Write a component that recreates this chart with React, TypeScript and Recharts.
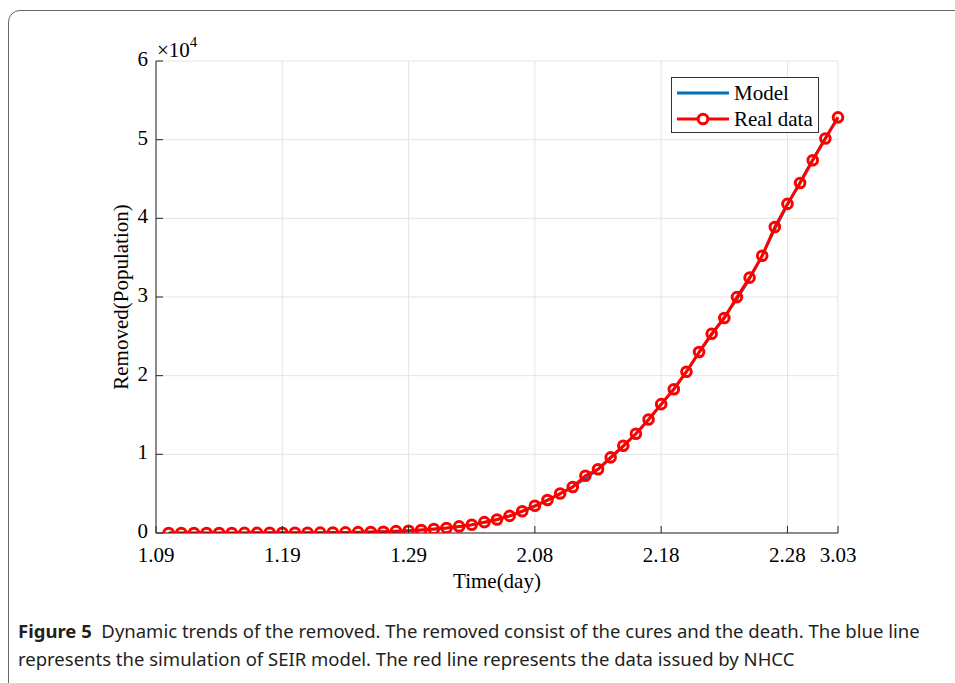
import React from 'react';
import { LineChart, Line, XAxis, YAxis, CartesianGrid } from 'recharts';

// days counted from 1.09; one point per day from 1.10 to 3.03
const dates = [
  '1.10', '1.11', '1.12', '1.13', '1.14', '1.15', '1.16', '1.17', '1.18', '1.19',
  '1.20', '1.21', '1.22', '1.23', '1.24', '1.25', '1.26', '1.27', '1.28', '1.29',
  '1.30', '1.31', '2.01', '2.02', '2.03', '2.04', '2.05', '2.06', '2.07', '2.08',
  '2.09', '2.10', '2.11', '2.12', '2.13', '2.14', '2.15', '2.16', '2.17', '2.18',
  '2.19', '2.20', '2.21', '2.22', '2.23', '2.24', '2.25', '2.26', '2.27', '2.28',
  '2.29', '3.01', '3.02', '3.03',
];

const realData = [
  2, 3, 7, 7, 7, 7, 14, 21, 27, 28,
  31, 37, 45, 59, 79, 105, 131, 166, 235, 294,
  384, 502, 632, 836, 1057, 1382, 1716, 2176, 2772, 3460,
  4189, 5012, 5853, 7278, 8103, 9619, 11084, 12614, 14420, 16380,
  18273, 20500, 23004, 25330, 27326, 29986, 32460, 35239, 38905, 41837,
  44495, 47374, 50147, 52837,
];

const modelData = [
  0, 0, 1, 3, 5, 8, 12, 17, 22, 26,
  30, 36, 45, 58, 78, 100, 128, 165, 225, 300,
  380, 480, 620, 800, 1030, 1330, 1690, 2150, 2720, 3380,
  4140, 4980, 5900, 6900, 8100, 9500, 11000, 12600, 14400, 16300,
  18300, 20500, 22900, 25200, 27500, 29700, 32300, 35300, 38600, 41700,
  44600, 47500, 50200, 52800,
];

const xTicks = [0, 10, 20, 30, 40, 50, 54];
const xTickLabels = ['1.09', '1.19', '1.29', '2.08', '2.18', '2.28', '3.03'];
const yTicks = [0, 10000, 20000, 30000, 40000, 50000, 60000];
const yTickLabels = ['0', '1', '2', '3', '4', '5', '6'];

const data = dates.map((d, i) => ({ day: i + 1, date: d, real: realData[i], model: modelData[i] }));

const SERIF = '"Liberation Serif", "Times New Roman", serif';
const AXIS = '#262626';
const TICK = 7;
const FS = 21;

const LeftTick = (props: any) => {
  const { x, y, payload } = props;
  const label = yTickLabels[yTicks.indexOf(payload.value)];
  return (
    <g>
      <line x1={x} x2={x + TICK} y1={y} y2={y} stroke={AXIS} strokeWidth={1} />
      <text x={x - 8} y={y} dy={5} textAnchor="end" fontFamily={SERIF} fontSize={FS} fill="#000">
        {label}
      </text>
    </g>
  );
};

const RightTick = (props: any) => {
  const { x, y } = props;
  return <line x1={x - TICK} x2={x} y1={y} y2={y} stroke={AXIS} strokeWidth={1} />;
};

const BottomTick = (props: any) => {
  const { x, y, payload } = props;
  const label = xTickLabels[xTicks.indexOf(payload.value)];
  return (
    <g>
      <line x1={x} x2={x} y1={y - TICK} y2={y} stroke={AXIS} strokeWidth={1} />
      <text x={x} y={y + 29} textAnchor="middle" fontFamily={SERIF} fontSize={FS} fill="#000">
        {label}
      </text>
    </g>
  );
};

const TopTick = (props: any) => {
  const { x, y } = props;
  return <line x1={x} x2={x} y1={y} y2={y + TICK} stroke={AXIS} strokeWidth={1} />;
};

const YLabel = (props: any) => {
  const vb = props.viewBox;
  const cx = vb.x + 5;
  const cy = vb.y + vb.height / 2;
  return (
    <g>
      <text
        x={cx}
        y={cy}
        transform={`rotate(-90, ${cx}, ${cy})`}
        textAnchor="middle"
        dominantBaseline="central"
        fontFamily={SERIF}
        fontSize={FS}
        fill="#000"
      >
        Removed(Population)
      </text>
      <text x={vb.x + vb.width + 1} y={vb.y - 4} fontFamily={SERIF} fontSize={21} fill="#000">
        ×10
        <tspan fontSize={15} dy={-10}>4</tspan>
      </text>
    </g>
  );
};

const XLabel = (props: any) => {
  const vb = props.viewBox;
  return (
    <text x={vb.x + vb.width / 2} y={vb.y + 55} textAnchor="middle" fontFamily={SERIF} fontSize={FS} fill="#000">
      Time(day)
    </text>
  );
};

const LegendBox = () => (
  <div
    style={{
      position: 'absolute',
      left: 671,
      top: 77,
      width: 148,
      height: 56,
      border: '1px solid #333',
      background: '#fff',
      boxSizing: 'border-box',
    }}
  >
    <svg width={148} height={56} style={{ position: 'absolute', left: -1, top: -1 }}>
      <line x1={6} x2={58} y1={16} y2={16} stroke="#0072BD" strokeWidth={3} />
      <line x1={6} x2={58} y1={42} y2={42} stroke="#FF0000" strokeWidth={3} />
      <circle cx={32} cy={42} r={4.8} fill="#fff" stroke="#FF0000" strokeWidth={3} />
      <text x={63} y={23} fontFamily={SERIF} fontSize={FS} fill="#000">Model</text>
      <text x={63} y={49} fontFamily={SERIF} fontSize={FS} fill="#000">Real data</text>
    </svg>
  </div>
);

export default function App() {
  return (
    <div style={{ position: 'absolute', left: 0, top: 0, width: 955, height: 683, overflow: 'hidden', background: '#fff' }}>
      <div
        style={{
          position: 'absolute',
          left: 8,
          top: 10,
          width: 1000,
          height: 720,
          border: '1.5px solid #666',
          borderRadius: 12,
          boxSizing: 'border-box',
        }}
      />
      <div style={{ position: 'absolute', left: 0, top: 0 }}>
        <LineChart width={955} height={683} data={data} margin={{ top: 61, right: 117, bottom: 120, left: 116 }}>
          <CartesianGrid stroke="#e4e4e4" strokeWidth={1} />
          <XAxis
            dataKey="day"
            type="number"
            domain={[0, 54]}
            ticks={xTicks}
            interval={0}
            height={30}
            stroke={AXIS}
            tickLine={false}
            tickSize={0}
            tickMargin={0}
            tick={<BottomTick />}
            label={{ content: <XLabel /> }}
          />
          <XAxis
            xAxisId="top"
            orientation="top"
            type="number"
            domain={[0, 54]}
            ticks={xTicks}
            interval={0}
            height={0}
            stroke={AXIS}
            tickLine={false}
            tickSize={0}
            tickMargin={0}
            tick={<TopTick />}
            allowDataOverflow
          />
          <YAxis
            type="number"
            domain={[0, 60000]}
            ticks={yTicks}
            interval={0}
            width={40}
            stroke={AXIS}
            tickLine={false}
            tickSize={0}
            tickMargin={0}
            tick={<LeftTick />}
            label={{ content: <YLabel /> }}
            allowDataOverflow
          />
          <YAxis
            yAxisId="right"
            orientation="right"
            type="number"
            domain={[0, 60000]}
            ticks={yTicks}
            interval={0}
            width={0}
            stroke={AXIS}
            tickLine={false}
            tickSize={0}
            tickMargin={0}
            tick={<RightTick />}
            allowDataOverflow
          />
          <Line
            type="linear"
            dataKey="model"
            name="Model"
            stroke="#0072BD"
            strokeWidth={2.5}
            dot={false}
            isAnimationActive={false}
          />
          <Line
            type="linear"
            dataKey="real"
            name="Real data"
            stroke="#FF0000"
            strokeWidth={3}
            dot={{ r: 4.8, stroke: '#FF0000', strokeWidth: 3, fill: 'none' }}
            isAnimationActive={false}
          />
        </LineChart>
      </div>
      <LegendBox />
      <div
        style={{
          position: 'absolute',
          left: 18,
          top: 617,
          width: 935,
          fontFamily: '"Noto Sans", "Open Sans", sans-serif',
          fontSize: 18.5,
          lineHeight: '28px',
          color: '#231f20',
          whiteSpace: 'nowrap',
        }}
      >
        <b>Figure 5</b>&nbsp; Dynamic trends of the removed. The removed consist of the cures and the death. The blue line
        <br />
        represents the simulation of SEIR model. The red line represents the data issued by NHCC
      </div>
    </div>
  );
}
